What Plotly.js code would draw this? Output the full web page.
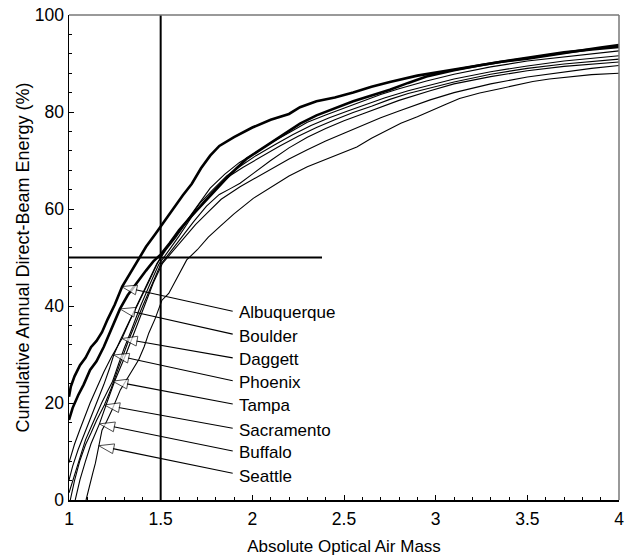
<!DOCTYPE html>
<html>
<head>
<meta charset="utf-8">
<script src="https://cdn.plot.ly/plotly-3.0.1.min.js"></script>
<style>html,body{margin:0;padding:0;background:#fff;}#chart{width:626px;height:556px;}</style>
</head>
<body>
<div id="chart"></div>
<script>
// ---- Data ----
var cities = ["Albuquerque", "Boulder", "Daggett", "Phoenix", "Tampa", "Sacramento", "Buffalo", "Seattle"];

var albuquerqueX = [1.0, 1.01, 1.03, 1.06, 1.09, 1.12, 1.15, 1.18, 1.21, 1.25, 1.29, 1.33, 1.37, 1.42, 1.47, 1.52, 1.57, 1.62, 1.67, 1.72, 1.77, 1.82, 1.9, 2.0, 2.1, 2.2, 2.26, 2.35, 2.45, 2.55, 2.65, 2.75, 2.9, 3.05, 3.2, 3.35, 3.5, 3.65, 3.8, 3.9, 4.0];
var albuquerqueY = [21.3, 23.4, 25.5, 27.8, 29.3, 31.5, 32.8, 34.6, 37.2, 40.3, 44.0, 46.5, 49.0, 52.2, 54.8, 57.5, 60.0, 62.8, 65.2, 68.4, 71.0, 73.0, 74.8, 76.8, 78.4, 79.6, 81.0, 82.2, 83.0, 84.0, 85.2, 86.2, 87.5, 88.4, 89.4, 90.3, 91.0, 91.9, 92.8, 93.3, 93.8];

var boulderX = [1.0, 1.02, 1.05, 1.08, 1.115, 1.15, 1.19, 1.23, 1.278, 1.32, 1.37, 1.42, 1.46, 1.5, 1.55, 1.6, 1.66, 1.733, 1.8, 1.87, 1.97, 2.05, 2.15, 2.26, 2.35, 2.45, 2.55, 2.65, 2.75, 2.85, 2.95, 3.1, 3.25, 3.4, 3.55, 3.7, 3.85, 4.0];
var boulderY = [16.5, 19.0, 21.6, 23.8, 26.8, 28.6, 31.6, 35.0, 39.4, 42.2, 44.8, 47.3, 49.2, 50.6, 53.0, 55.6, 58.2, 61.2, 64.0, 66.8, 70.4, 72.4, 74.8, 77.6, 79.3, 80.8, 82.2, 83.4, 84.6, 86.0, 87.3, 88.6, 89.7, 90.6, 91.5, 92.3, 92.9, 93.4];

var daggettX = [1.0, 1.03, 1.06, 1.09, 1.115, 1.15, 1.19, 1.23, 1.26, 1.289, 1.33, 1.38, 1.43, 1.48, 1.52, 1.57, 1.63, 1.7, 1.77, 1.85, 1.93, 2.0, 2.1, 2.2, 2.3, 2.4, 2.5, 2.6, 2.7, 2.8, 2.95, 3.1, 3.3, 3.5, 3.7, 3.85, 4.0];
var daggettY = [7.7, 11.5, 14.6, 17.6, 20.0, 23.0, 26.4, 29.4, 31.4, 33.3, 36.8, 40.6, 44.6, 48.6, 51.4, 53.8, 56.9, 60.7, 64.3, 67.2, 69.6, 71.2, 73.6, 75.7, 77.9, 79.4, 80.8, 82.3, 83.6, 84.8, 86.4, 87.8, 89.3, 90.5, 91.4, 92.0, 92.6];

var phoenixX = [1.0, 1.02, 1.05, 1.08, 1.11, 1.151, 1.19, 1.22, 1.244, 1.28, 1.32, 1.37, 1.42, 1.48, 1.53, 1.58, 1.64, 1.71, 1.78, 1.86, 1.93, 2.02, 2.12, 2.22, 2.32, 2.42, 2.52, 2.62, 2.72, 2.85, 2.97, 3.1, 3.3, 3.5, 3.7, 3.85, 4.0];
var phoenixY = [4.1, 7.0, 10.4, 13.2, 16.0, 20.0, 23.8, 27.0, 29.9, 33.0, 36.2, 40.0, 44.0, 48.8, 51.6, 54.0, 57.2, 61.0, 63.8, 66.8, 68.7, 71.0, 73.2, 75.3, 77.2, 78.8, 80.2, 81.6, 82.9, 84.4, 85.6, 86.8, 88.3, 89.5, 90.5, 91.0, 91.6];

var tampaX = [1.0, 1.03, 1.06, 1.09, 1.12, 1.15, 1.178, 1.21, 1.238, 1.27, 1.3, 1.34, 1.39, 1.44, 1.49, 1.54, 1.6, 1.67, 1.74, 1.81, 1.88, 1.95, 2.05, 2.15, 2.25, 2.35, 2.45, 2.55, 2.65, 2.75, 2.85, 2.97, 3.1, 3.3, 3.5, 3.7, 3.85, 4.0];
var tampaY = [1.5, 5.2, 9.0, 12.4, 15.0, 17.6, 20.0, 22.4, 24.5, 28.0, 31.2, 35.0, 40.0, 44.4, 48.6, 51.2, 54.4, 58.4, 61.8, 64.6, 66.9, 68.6, 70.8, 73.0, 75.0, 76.8, 78.4, 79.9, 81.2, 82.6, 83.8, 85.0, 86.2, 87.8, 89.0, 89.9, 90.4, 90.9];

var sacramentoX = [1.007, 1.03, 1.06, 1.09, 1.12, 1.15, 1.193, 1.23, 1.26, 1.29, 1.33, 1.4, 1.45, 1.5, 1.55, 1.61, 1.68, 1.75, 1.82, 1.88, 1.933, 2.0, 2.1, 2.2, 2.3, 2.4, 2.5, 2.6, 2.7, 2.8, 2.97, 3.1, 3.3, 3.5, 3.7, 3.85, 4.0];
var sacramentoY = [0, 4.0, 8.2, 11.4, 13.8, 16.4, 19.6, 23.0, 26.2, 29.4, 33.4, 39.8, 44.2, 48.6, 51.0, 54.0, 57.4, 60.6, 63.0, 64.2, 65.3, 67.2, 70.0, 72.6, 74.8, 76.6, 78.2, 79.6, 81.0, 82.4, 84.4, 85.8, 87.3, 88.5, 89.4, 89.9, 90.3];

var buffaloX = [1.034, 1.06, 1.09, 1.12, 1.145, 1.166, 1.206, 1.25, 1.31, 1.36, 1.41, 1.46, 1.51, 1.56, 1.62, 1.69, 1.76, 1.83, 1.933, 2.0, 2.1, 2.2, 2.3, 2.4, 2.5, 2.6, 2.7, 2.8, 2.97, 3.1, 3.3, 3.5, 3.7, 3.85, 4.0];
var buffaloY = [0, 4.2, 8.0, 11.6, 13.8, 15.7, 20.0, 24.6, 30.0, 35.0, 40.0, 44.8, 48.8, 51.0, 53.6, 56.8, 59.4, 62.0, 64.6, 66.0, 68.2, 70.3, 72.2, 74.0, 75.6, 77.2, 78.8, 80.2, 82.5, 84.0, 85.8, 87.2, 88.3, 89.0, 89.6];

var seattleX = [1.093, 1.11, 1.13, 1.144, 1.162, 1.18, 1.205, 1.235, 1.28, 1.33, 1.38, 1.41, 1.435, 1.47, 1.507, 1.544, 1.59, 1.642, 1.7, 1.76, 1.824, 1.9, 2.005, 2.1, 2.2, 2.3, 2.4, 2.5, 2.57, 2.65, 2.73, 2.81, 2.9, 2.97, 3.05, 3.13, 3.24, 3.35, 3.44, 3.53, 3.62, 3.71, 3.85, 4.0];
var seattleY = [0, 2.8, 5.6, 7.6, 11.2, 14.4, 16.2, 18.6, 22.7, 25.8, 28.9, 31.6, 34.4, 37.4, 41.2, 42.6, 46.0, 49.5, 51.6, 54.2, 56.4, 59.0, 62.2, 64.4, 66.8, 68.7, 70.2, 71.6, 72.8, 74.6, 76.2, 77.7, 79.0, 80.1, 81.5, 82.8, 83.9, 84.8, 85.6, 86.3, 86.8, 87.2, 87.7, 88.0];

var curveX = [albuquerqueX, boulderX, daggettX, phoenixX, tampaX, sacramentoX, buffaloX, seattleX];
var curveY = [albuquerqueY, boulderY, daggettY, phoenixY, tampaY, sacramentoY, buffaloY, seattleY];
var thickCurve = [true, true, false, false, false, false, false, false];

// label callouts: text position and arrow tip on each curve
var labelX = 1.915;
var labelY = [38.6, 33.8, 29.0, 24.2, 19.4, 14.4, 9.8, 4.8];
var arrowTailX = 1.893;
var arrowTailY = [38.9, 34.2, 29.3, 24.6, 19.8, 14.8, 10.1, 5.5];
var arrowTipX = [1.287, 1.278, 1.289, 1.244, 1.238, 1.193, 1.166, 1.162];
var arrowTipY = [44.0, 39.4, 33.3, 29.9, 24.5, 19.6, 15.7, 11.2];

// reference cross-hair
var refAirMass = 1.5;
var refEnergy = 50;
var refLineEnd = 2.38;

// ---- Build traces ----
var traces = [];
for (var i = 0; i < cities.length; i++) {
  traces.push({
    type: 'scatter', mode: 'lines', name: cities[i],
    x: curveX[i], y: curveY[i],
    line: {color: '#000', width: thickCurve[i] ? 2.6 : 1.1},
    hoverinfo: 'name+x+y'
  });
}
traces.push({type: 'scatter', mode: 'lines', x: [refAirMass, refAirMass], y: [0, 100],
  line: {color: '#000', width: 2}, hoverinfo: 'skip', cliponaxis: false});
traces.push({type: 'scatter', mode: 'lines', x: [1, refLineEnd], y: [refEnergy, refEnergy],
  line: {color: '#000', width: 2}, hoverinfo: 'skip'});

for (var j = 0; j < cities.length; j++) {
  traces.push({
    type: 'scatter', mode: 'lines+markers',
    x: [arrowTailX, arrowTipX[j]], y: [arrowTailY[j], arrowTipY[j]],
    line: {color: '#000', width: 1.1},
    marker: {symbol: 'arrow', size: [0, 16], angleref: 'previous', color: '#fff',
             line: {color: '#000', width: 1}},
    hoverinfo: 'skip', cliponaxis: false
  });
}

var labelFont = {family: 'Liberation Sans, Arial, sans-serif', size: 17, color: '#000'};
var annotations = [];
for (var k = 0; k < cities.length; k++) {
  annotations.push({x: labelX, y: labelY[k], xref: 'x', yref: 'y', text: cities[k],
    showarrow: false, xanchor: 'left', yanchor: 'middle', font: labelFont});
}

var font = {family: 'Liberation Sans, Arial, sans-serif', size: 17, color: '#000'};

var layout = {
  width: 626, height: 556,
  margin: {l: 69, r: 7, t: 15, b: 56, pad: 0},
  paper_bgcolor: '#fff', plot_bgcolor: '#fff',
  showlegend: false,
  font: font,
  xaxis: {
    range: [1, 4], tick0: 1, dtick: 0.5, ticks: 'inside', ticklen: 5, tickwidth: 1, tickcolor: '#000',
    minor: {dtick: 0.1, ticks: 'inside', ticklen: 3, tickcolor: '#000', showgrid: false},
    showgrid: false, zeroline: false, showline: true, linecolor: '#000', linewidth: 1.5,
    tickfont: {family: 'Liberation Sans, Arial, sans-serif', size: 17.5, color: '#000'},
    ticklabelstandoff: 2,
    title: {text: 'Absolute Optical Air Mass', font: font, standoff: 12}
  },
  yaxis: {
    range: [0, 100], tick0: 0, dtick: 20, ticks: 'inside', ticklen: 5, tickwidth: 1, tickcolor: '#000',
    minor: {dtick: 4, ticks: 'inside', ticklen: 3, tickcolor: '#000', showgrid: false},
    showgrid: false, zeroline: false, showline: true, linecolor: '#000', linewidth: 1.5,
    tickfont: {family: 'Liberation Sans, Arial, sans-serif', size: 17.5, color: '#000'},
    title: {text: 'Cumulative Annual Direct-Beam Energy (%)', font: {family: 'Liberation Sans, Arial, sans-serif', size: 18, color: '#000'}, standoff: 0}
  },
  shapes: [
    {type: 'line', xref: 'paper', yref: 'paper', x0: 0, x1: 1, y0: 1, y1: 1, line: {color: '#777', width: 1.5}},
    {type: 'line', xref: 'paper', yref: 'paper', x0: 1, x1: 1, y0: 0, y1: 1, line: {color: '#777', width: 1.5}}
  ],
  annotations: annotations
};

Plotly.newPlot('chart', traces, layout, {displayModeBar: false, staticPlot: true});
</script>
</body>
</html>
